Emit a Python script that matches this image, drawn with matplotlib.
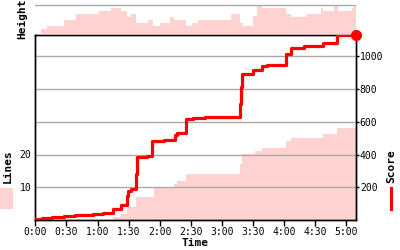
import matplotlib
matplotlib.use("Agg")
import matplotlib.pyplot as plt
from matplotlib.patches import Rectangle
from matplotlib.lines import Line2D

# ---- data (time in minutes) ----
score_t = [0, 6, 16, 27.7, 38, 56, 65, 74.7, 82.4, 88, 89, 92.6, 97, 98, 108, 112.6,
           124, 135, 137, 145.6, 151.7, 163.7, 197, 198, 199, 210, 218.7, 223.5,
           242, 246.4, 258.8, 277.8, 291]
score_v = [5, 12, 18, 25, 32, 40, 46, 69, 93, 150, 180, 189, 282, 383, 393, 481,
           491, 520, 533, 617, 622, 630, 710, 810, 889, 913, 939, 945,
           1012, 1047, 1059, 1081, 1125]

lines_t = [0, 74.7, 82.4, 88.1, 97.1, 114, 134, 137, 145.4, 197.4, 199.7, 212,
           218.7, 241.8, 246.4, 277.5, 291]
lines_v = [0, 1, 2, 4, 7, 10, 11, 12, 14, 17, 20, 21, 22, 24, 25, 26, 28]

height_t = [0, 5.5, 11.3, 27.7, 38.9, 61.4, 73, 82.4, 88.1, 92.3, 97.1, 108.7,
            113.5, 120.3, 130, 133.8, 145.4, 151.2, 157, 189, 197.7, 200.5,
            210.3, 214, 219, 242, 246.9, 262.4, 275.9, 277.8, 288.4, 292.3,
            305, 307]
height_v = [0, 4, 6, 10, 14, 16, 18, 16, 12, 14, 8, 10, 6, 8, 12, 10, 6, 8, 10,
            14, 8, 6, 13, 20, 18, 14, 12, 14, 18, 16, 20, 16, 18, 20]

end_time = 309
time_ticks = [0, 30, 60, 90, 120, 150, 180, 210, 240, 270, 300]
time_labels = ["0:00", "0:30", "1:00", "1:30", "2:00", "2:30", "3:00",
               "3:30", "4:00", "4:30", "5:00"]
score_ticks = [200, 400, 600, 800, 1000]
lines_ticks = [10, 20]

PINK = "#ffd2d2"
RED = "#ff0000"
GRID = "#aaaaaa"
MONO = "DejaVu Sans Mono"

plt.rcParams["font.family"] = MONO

fig = plt.figure(figsize=(4, 2.5), dpi=100)
W, H = 400, 250
L, R = 35.3 / W, 355.7 / W
B, T = 1 - 220.3 / H, 1 - 35 / H

ax = fig.add_axes([L, B, R - L, T - B])
axh = fig.add_axes([L, T, R - L, 1 - T])

# lines area
lt = lines_t + [end_time]
lv = lines_v + [lines_v[-1]]
ax.fill_between(lt, 0, lv, step="post", color=PINK, linewidth=0)
ax.set_xlim(0, end_time)
ax.set_ylim(0, 56.15)
ax.set_yticks(lines_ticks)
ax.set_xticks(time_ticks)
ax.set_xticklabels(time_labels)
ax.tick_params(axis="x", length=4, width=1, direction="out", pad=0.5, labelsize=7)
ax.tick_params(axis="y", length=0, pad=3, labelsize=7)

ax2 = ax.twinx()
ax2.set_ylim(0, 1128)
ax2.set_axisbelow(True)
ax2.grid(axis="y", color=GRID, lw=1)
st = score_t + [end_time]
sv = score_v + [score_v[-1]]
ax2.step(st, sv, where="post", color=RED, lw=2.3, zorder=3)
ax2.plot([end_time], [score_v[-1]], "o", color=RED, ms=7, clip_on=False, zorder=4)
ax2.set_yticks(score_ticks)
ax2.tick_params(axis="y", length=2, width=1, pad=1, labelsize=7)

for a in (ax, ax2):
    for s in a.spines.values():
        s.set_color("black")
        s.set_linewidth(1)

# height panel
ht = height_t + [end_time]
hv = height_v + [height_v[-1]]
axh.fill_between(ht, 0, hv, step="post", color=PINK, linewidth=0)
axh.axhline(20, color=GRID, lw=1)
axh.set_xlim(0, end_time)
axh.set_ylim(0, 35 / 1.485)
axh.set_axis_off()

# labels
fig.text(195.5 / W, 1 - 242.5 / H, "Time", ha="center", va="center",
         fontsize=8, fontweight="bold")
fig.text(8 / W, 1 - 166.5 / H, "Lines", ha="center", va="center",
         rotation=90, fontsize=8, fontweight="bold")
fig.text(391 / W, 1 - 166.5 / H, "Score", ha="center", va="center",
         rotation=90, fontsize=8, fontweight="bold")
fig.text(22.5 / W, 1 - 19 / H, "Height", ha="center", va="center",
         rotation=90, fontsize=8, fontweight="bold")

fig.add_artist(Rectangle((0, 1 - 209 / H), 12.7 / W, 21 / H,
                         transform=fig.transFigure, color=PINK, lw=0))
fig.add_artist(Line2D([390.5 / W, 390.5 / W], [1 - 188 / H, 1 - 209 / H],
                      transform=fig.transFigure, color=RED, lw=2.2))

fig.savefig("out.png", dpi=100)
